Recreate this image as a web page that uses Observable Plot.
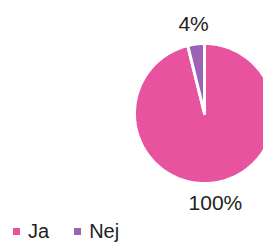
<!DOCTYPE html>
<html><head><meta charset="utf-8">
<script src="https://cdn.jsdelivr.net/npm/d3@7"></script>
<script src="https://cdn.jsdelivr.net/npm/@observablehq/plot@0.6"></script>
<style>
html,body{margin:0;padding:0;background:#fff;overflow:hidden;}
body{width:263px;height:242px;font-family:"Liberation Sans",Arial,sans-serif;}
#legend{display:flex;align-items:center;height:22px;padding-left:13px;font-size:20px;color:#222;}
.item{display:flex;align-items:center;margin-right:25px;}
.sw{width:7px;height:7px;margin-right:8px;}
</style></head><body>
<div id="chart"></div>
<div id="legend"></div>
<script>
const categories = ["Ja", "Nej"];
const values = [100, 4];
const labels = ["100%", "4%"];
const colors = ["#e8539f", "#9b62b6"];

const pie = d3.pie().sort(null).value(d => d.value);
const arcs = pie(categories.map((c, i) => ({key: c, value: values[i], label: labels[i]})));

const pts = [];
for (const a of arcs) {
  const n = Math.max(4, Math.ceil((a.endAngle - a.startAngle) / 0.02));
  pts.push({key: a.data.key, x: 0, y: 0});
  for (let k = 0; k <= n; k++) {
    const t = a.startAngle + (a.endAngle - a.startAngle) * k / n;
    pts.push({key: a.data.key, x: Math.sin(t), y: Math.cos(t)});
  }
  pts.push({key: a.data.key, x: 0, y: 0});
}
const lab = arcs.map(a => {
  const m = (a.startAngle + a.endAngle) / 2;
  return {label: a.data.label, x: 1.29 * Math.sin(m), y: 1.29 * Math.cos(m)};
});

const chart = Plot.plot({
  width: 263, height: 220,
  x: {domain: [-1, 1], range: [134, 274], axis: null},
  y: {domain: [-1, 1], range: [183, 43], axis: null},
  color: {domain: categories, range: colors},
  style: {fontFamily: '"Liberation Sans", Arial, sans-serif', background: "#fff"},
  marks: [
    Plot.line(pts, {x: "x", y: "y", z: "key", fill: "key", stroke: "white", strokeWidth: 3, strokeLinejoin: "miter", curve: "linear"}),
    Plot.text(lab, {x: "x", y: "y", text: "label", fontSize: 21, fill: "#222"})
  ]
});
document.getElementById("chart").appendChild(chart);

const lg = document.getElementById("legend");
categories.forEach((c, i) => {
  const it = document.createElement("div"); it.className = "item";
  const sw = document.createElement("div"); sw.className = "sw"; sw.style.background = colors[i];
  const tx = document.createElement("span"); tx.textContent = c;
  it.appendChild(sw); it.appendChild(tx); lg.appendChild(it);
});
</script>
</body></html>
